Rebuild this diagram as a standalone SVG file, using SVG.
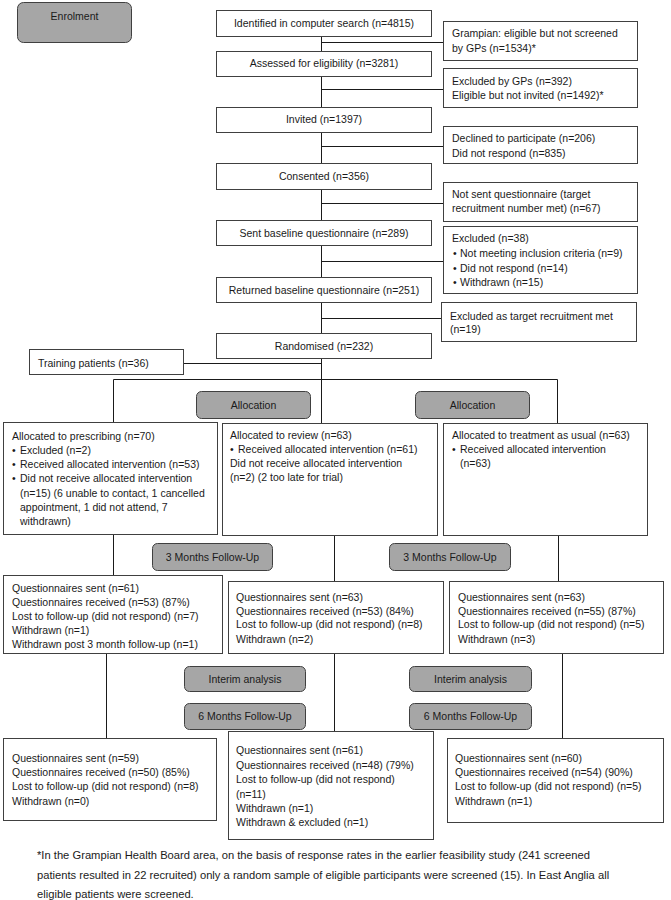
<svg xmlns="http://www.w3.org/2000/svg" width="671" height="900" viewBox="0 0 671 900">
<style>
  text { font-family: "Liberation Sans", Arial, sans-serif; font-size: 10.5px; fill: #1a1a1a; }
  .c { text-anchor: middle; }
  .note { font-size: 11.2px; }
  .box { fill: #ffffff; stroke: #404040; stroke-width: 1; }
  .gray { fill: #a6a6a6; stroke: #404040; stroke-width: 1; }
  .conn { fill: none; stroke: #1a1a1a; stroke-width: 1; }
</style>
<rect width="671" height="900" fill="#ffffff"/>

<g id="connectors">
  <path class="conn" d="M321.5 36 V333 M321.5 358 V423"/>
  <path class="conn" d="M321.5 42.5 H443 M321.5 89.5 H443 M321.5 146.5 H443 M321.5 203.5 H443 M321.5 261.5 H443 M321.5 318.5 H441"/>
  <path class="conn" d="M183 363.5 H321.5"/>
  <path class="conn" d="M113.5 422 V379.5 H557.5 V423"/>
  <path class="conn" d="M113.5 534 V575 M334.5 535 V581 M558.5 535 V581"/>
  <path class="conn" d="M106.5 653 V738 M334.5 653 V731 M562.5 653 V738"/>
</g>

<g id="enrolment">
  <rect class="gray" x="17.5" y="2.5" width="114" height="40" rx="6"/>
  <text class="c" x="74.5" y="19.5">Enrolment</text>
</g>

<g id="identified">
  <rect class="box" x="216.5" y="10.5" width="215" height="26"/>
  <text class="c" x="324" y="26.5">Identified in computer search (n=4815)</text>
</g>
<g id="grampian">
  <rect class="box" x="443.5" y="21.5" width="194" height="39"/>
  <text x="452" y="36.5">Grampian: eligible but not screened</text>
  <text x="452" y="51.5">by GPs (n=1534)*</text>
</g>
<g id="assessed">
  <rect class="box" x="216.5" y="51.5" width="215" height="25"/>
  <text class="c" x="324" y="67">Assessed for eligibility (n=3281)</text>
</g>
<g id="excluded-gps">
  <rect class="box" x="443.5" y="68.5" width="194" height="39"/>
  <text x="452" y="84.5">Excluded by GPs (n=392)</text>
  <text x="452" y="98.5">Eligible but not invited (n=1492)*</text>
</g>
<g id="invited">
  <rect class="box" x="216.5" y="107.5" width="215" height="25"/>
  <text class="c" x="324" y="123">Invited (n=1397)</text>
</g>
<g id="declined">
  <rect class="box" x="443.5" y="126.5" width="194" height="37"/>
  <text x="452" y="141.5">Declined to participate (n=206)</text>
  <text x="452" y="156.5">Did not respond (n=835)</text>
</g>
<g id="consented">
  <rect class="box" x="216.5" y="163.5" width="215" height="26"/>
  <text class="c" x="324" y="180">Consented (n=356)</text>
</g>
<g id="not-sent">
  <rect class="box" x="443.5" y="182.5" width="194" height="39"/>
  <text x="452" y="197.5">Not sent questionnaire (target</text>
  <text x="452" y="211.5">recruitment number met) (n=67)</text>
</g>
<g id="sent-baseline">
  <rect class="box" x="216.5" y="220.5" width="215" height="25"/>
  <text class="c" x="324" y="236.5">Sent baseline questionnaire (n=289)</text>
</g>
<g id="excluded-38">
  <rect class="box" x="443.5" y="226.5" width="194" height="67"/>
  <text x="452" y="241.5">Excluded (n=38)</text>
  <text x="453" y="256.5">•</text><text x="460" y="256.5">Not meeting inclusion criteria (n=9)</text>
  <text x="453" y="271.5">•</text><text x="460" y="271.5">Did not respond (n=14)</text>
  <text x="453" y="285.5">•</text><text x="460" y="285.5">Withdrawn (n=15)</text>
</g>
<g id="returned-baseline">
  <rect class="box" x="216.5" y="277.5" width="215" height="25"/>
  <text class="c" x="324" y="293.5">Returned baseline questionnaire (n=251)</text>
</g>
<g id="excluded-target">
  <rect class="box" x="441.5" y="302.5" width="195" height="39"/>
  <text x="450" y="319.5">Excluded as target recruitment met</text>
  <text x="450" y="332.5">(n=19)</text>
</g>
<g id="randomised">
  <rect class="box" x="216.5" y="333.5" width="215" height="25"/>
  <text class="c" x="324" y="349.5">Randomised (n=232)</text>
</g>
<g id="training">
  <rect class="box" x="29.5" y="349.5" width="154" height="25"/>
  <text x="38" y="366.5">Training patients (n=36)</text>
</g>

<g id="allocation-left">
  <rect class="gray" x="196.5" y="391.5" width="114" height="27" rx="5"/>
  <text class="c" x="253.5" y="408.5">Allocation</text>
</g>
<g id="allocation-right">
  <rect class="gray" x="415.5" y="391.5" width="114" height="27" rx="5"/>
  <text class="c" x="472.5" y="408.5">Allocation</text>
</g>

<g id="prescribing">
  <rect class="box" x="3.5" y="422.5" width="214" height="112"/>
  <text x="12" y="439.5">Allocated to prescribing (n=70)</text>
  <text x="12" y="453.5">•</text><text x="20" y="453.5">Excluded (n=2)</text>
  <text x="12" y="467.5">•</text><text x="20" y="467.5">Received allocated intervention (n=53)</text>
  <text x="12" y="482">•</text><text x="20" y="482">Did not receive allocated intervention</text>
  <text x="20" y="496.5">(n=15) (6 unable to contact, 1 cancelled</text>
  <text x="20" y="510.5">appointment, 1 did not attend, 7</text>
  <text x="20" y="524.5">withdrawn)</text>
</g>
<g id="review">
  <rect class="box" x="222.5" y="423.5" width="215" height="112"/>
  <text x="230" y="438.5">Allocated to review (n=63)</text>
  <text x="230" y="452.5">•</text><text x="238" y="452.5">Received allocated intervention (n=61)</text>
  <text x="230" y="466.5">Did not receive allocated intervention</text>
  <text x="230" y="481">(n=2) (2 too late for trial)</text>
</g>
<g id="usual">
  <rect class="box" x="443.5" y="423.5" width="204" height="112"/>
  <text x="452" y="438.5">Allocated to treatment as usual (n=63)</text>
  <text x="452" y="452.5">•</text><text x="460" y="452.5">Received allocated intervention</text>
  <text x="460" y="466.5">(n=63)</text>
</g>

<g id="fu3-left">
  <rect class="gray" x="152.5" y="543.5" width="120" height="27" rx="5"/>
  <text class="c" x="212.5" y="560.5">3 Months Follow-Up</text>
</g>
<g id="fu3-right">
  <rect class="gray" x="389.5" y="543.5" width="121" height="27" rx="5"/>
  <text class="c" x="450" y="560.5">3 Months Follow-Up</text>
</g>

<g id="m3-prescribing">
  <rect class="box" x="3.5" y="575.5" width="219" height="78"/>
  <text x="12" y="591.5">Questionnaires sent (n=61)</text>
  <text x="12" y="605.5">Questionnaires received (n=53) (87%)</text>
  <text x="12" y="619.5">Lost to follow-up (did not respond) (n=7)</text>
  <text x="12" y="633.5">Withdrawn (n=1)</text>
  <text x="12" y="647.5">Withdrawn post 3 month follow-up (n=1)</text>
</g>
<g id="m3-review">
  <rect class="box" x="228.5" y="581.5" width="215" height="72"/>
  <text x="236" y="600.5">Questionnaires sent (n=63)</text>
  <text x="236" y="614.5">Questionnaires received (n=53) (84%)</text>
  <text x="236" y="628">Lost to follow-up (did not respond) (n=8)</text>
  <text x="236" y="642.5">Withdrawn (n=2)</text>
</g>
<g id="m3-usual">
  <rect class="box" x="449.5" y="581.5" width="214" height="72"/>
  <text x="458" y="600.5">Questionnaires sent (n=63)</text>
  <text x="458" y="614.5">Questionnaires received (n=55) (87%)</text>
  <text x="458" y="628">Lost to follow-up (did not respond) (n=5)</text>
  <text x="458" y="642.5">Withdrawn (n=3)</text>
</g>

<g id="interim-left">
  <rect class="gray" x="184.5" y="666.5" width="121" height="25" rx="5"/>
  <text class="c" x="245" y="682.5">Interim analysis</text>
</g>
<g id="interim-right">
  <rect class="gray" x="409.5" y="666.5" width="122" height="25" rx="5"/>
  <text class="c" x="470.5" y="682.5">Interim analysis</text>
</g>
<g id="fu6-left">
  <rect class="gray" x="184.5" y="703.5" width="121" height="26" rx="5"/>
  <text class="c" x="245" y="720">6 Months Follow-Up</text>
</g>
<g id="fu6-right">
  <rect class="gray" x="409.5" y="703.5" width="122" height="26" rx="5"/>
  <text class="c" x="470.5" y="720">6 Months Follow-Up</text>
</g>

<g id="m6-prescribing">
  <rect class="box" x="3.5" y="738.5" width="213" height="82"/>
  <text x="12" y="761.5">Questionnaires sent (n=59)</text>
  <text x="12" y="775.5">Questionnaires received (n=50) (85%)</text>
  <text x="12" y="790">Lost to follow-up (did not respond) (n=8)</text>
  <text x="12" y="804.5">Withdrawn (n=0)</text>
</g>
<g id="m6-review">
  <rect class="box" x="228.5" y="731.5" width="205" height="108"/>
  <text x="236" y="753.5">Questionnaires sent (n=61)</text>
  <text x="236" y="768.5">Questionnaires received (n=48) (79%)</text>
  <text x="236" y="782.5">Lost to follow-up (did not respond)</text>
  <text x="236" y="797.5">(n=11)</text>
  <text x="236" y="811.5">Withdrawn (n=1)</text>
  <text x="236" y="825.5">Withdrawn &amp; excluded (n=1)</text>
</g>
<g id="m6-usual">
  <rect class="box" x="447.5" y="738.5" width="216" height="84"/>
  <text x="455" y="761.5">Questionnaires sent (n=60)</text>
  <text x="455" y="775.5">Questionnaires received (n=54) (90%)</text>
  <text x="455" y="790">Lost to follow-up (did not respond) (n=5)</text>
  <text x="455" y="804.5">Withdrawn (n=1)</text>
</g>

<g id="footnote">
  <text class="note" x="37" y="859">*In the Grampian Health Board area, on the basis of response rates in the earlier feasibility study (241 screened</text>
  <text class="note" x="37" y="879">patients resulted in 22 recruited) only a random sample of eligible participants were screened (15). In East Anglia all</text>
  <text class="note" x="37" y="898">eligible patients were screened.</text>
</g>
</svg>
